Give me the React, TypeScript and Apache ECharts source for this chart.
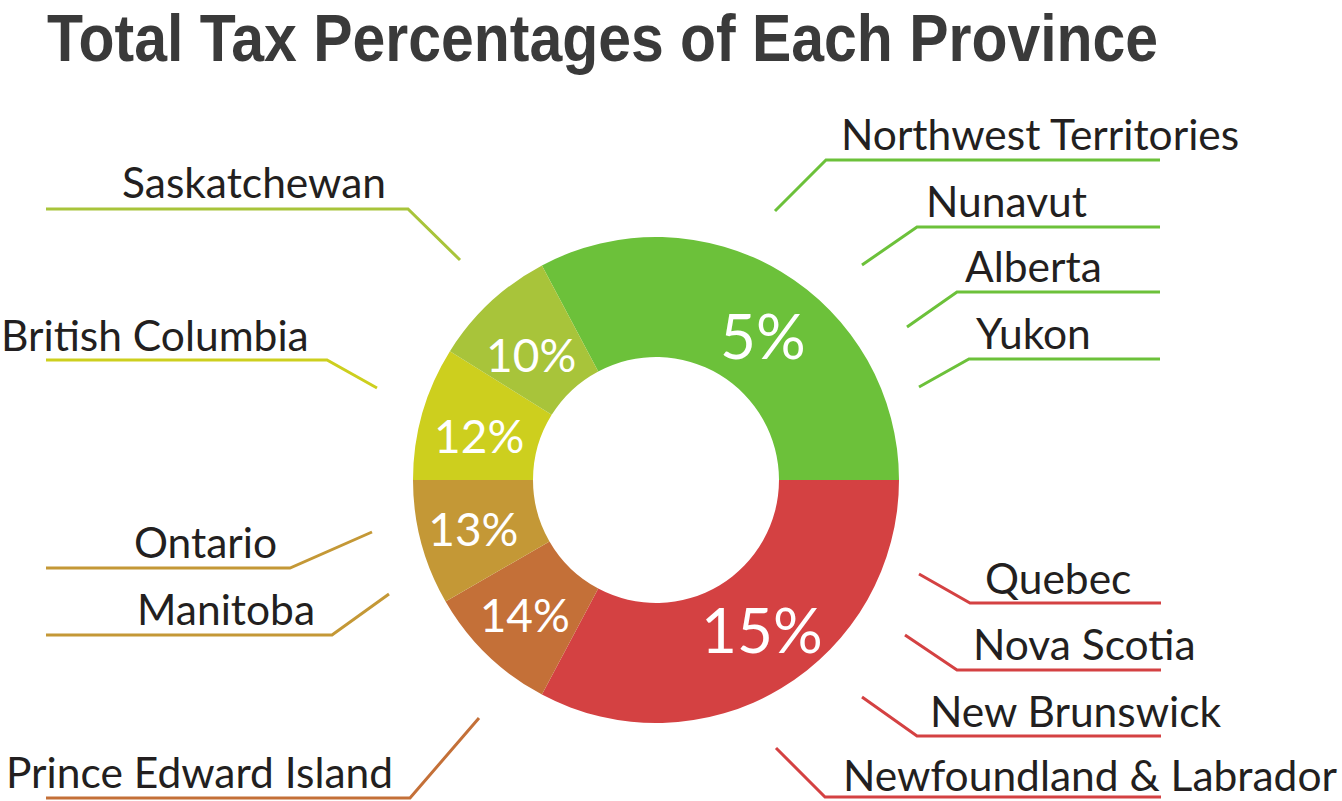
import React, { useEffect, useRef } from "react";
import * as echarts from "echarts";

const TITLE = "Total Tax Percentages of Each Province";

// Slices (clockwise from the upper-left edge of the green slice)
const rateLabels = ["5%", "15%", "14%", "13%", "12%", "10%"];
const sliceShares = [118, 118, 32, 30, 32, 30]; // angular share (degrees)
const sliceColors = ["#6cc13a", "#d44142", "#c47038", "#c49836", "#cdcf1e", "#a8c43a"];

// Provinces and the slice each one belongs to
const provinces = [
  "Northwest Territories",
  "Nunavut",
  "Alberta",
  "Yukon",
  "Quebec",
  "Nova Scotia",
  "New Brunswick",
  "Newfoundland & Labrador",
  "Prince Edward Island",
  "Ontario",
  "Manitoba",
  "British Columbia",
  "Saskatchewan",
];
const provinceSlice = [0, 0, 0, 0, 1, 1, 1, 1, 2, 3, 3, 4, 5];

// Layout only: leader line points and label anchor (left x, baseline y)
const leaderLayout: { pts: number[][]; tx: number; ty: number }[] = [
  { pts: [[775, 211], [826, 160], [1160, 160]], tx: 841, ty: 149 },
  { pts: [[862, 265], [917, 227], [1160, 227]], tx: 926, ty: 216 },
  { pts: [[907, 327], [957, 292], [1160, 292]], tx: 965, ty: 281 },
  { pts: [[919, 387], [969, 359], [1160, 359]], tx: 976, ty: 348 },
  { pts: [[919, 574], [970, 603], [1161, 603]], tx: 985, ty: 593 },
  { pts: [[905, 635], [957, 670], [1161, 670]], tx: 973, ty: 659 },
  { pts: [[862, 697], [917, 736], [1161, 736]], tx: 930, ty: 726 },
  { pts: [[776, 748], [825, 797], [1161, 797]], tx: 843, ty: 790 },
  { pts: [[479, 718], [410, 798], [46, 798]], tx: 6, ty: 787 },
  { pts: [[372, 532], [290, 568], [46, 568]], tx: 134, ty: 557 },
  { pts: [[389, 594], [332, 635], [46, 635]], tx: 137, ty: 624 },
  { pts: [[377, 388], [327, 360], [46, 360]], tx: 1, ty: 350 },
  { pts: [[460, 260], [408, 209], [46, 209]], tx: 122, ty: 197 },
];

// Layout only: nudges of the percentage labels
const rateLabelNudge = [
  [11, 14],
  [10, -10],
  [-2, 1],
  [-3, 0],
  [2, 7],
  [2, 11],
];

const LABEL_FONT = 42.5;
const TITLE_FONT = 66;
const TITLE_BASELINE = 60.5;
const TITLE_WIDTH = 1111;

export default function App() {
  const ref = useRef<HTMLDivElement>(null);

  useEffect(() => {
    if (!ref.current) return;
    const chart = echarts.init(ref.current, undefined, { renderer: "svg" });

    let titleScaleX = 0.9;
    try {
      const ctx = document.createElement("canvas").getContext("2d");
      if (ctx) {
        ctx.font = `bold ${TITLE_FONT}px "Liberation Sans"`;
        const w = ctx.measureText(TITLE).width;
        if (w > 0) titleScaleX = TITLE_WIDTH / w;
      }
    } catch (e) {
      titleScaleX = 0.9;
    }

    const graphics: any[] = [
      {
        type: "text",
        x: 47,
        y: TITLE_BASELINE - 0.3465 * TITLE_FONT,
        scaleX: titleScaleX,
        silent: true,
        style: {
          text: TITLE,
          fontFamily: "Liberation Sans",
          fontWeight: "bold",
          fontSize: TITLE_FONT,
          fill: "#3a3a3a",
          align: "left",
          verticalAlign: "middle",
        },
      },
    ];

    provinces.forEach((name, i) => {
      const lay = leaderLayout[i];
      const color = sliceColors[provinceSlice[i]];
      graphics.push({
        type: "polyline",
        silent: true,
        shape: { points: lay.pts },
        style: { stroke: color, lineWidth: 3, fill: "none" },
      });
      graphics.push({
        type: "text",
        silent: true,
        x: lay.tx,
        y: lay.ty - 0.37 * LABEL_FONT,
        style: {
          text: name,
          fontFamily: "Lato",
          fontSize: LABEL_FONT,
          fill: "#231f20",
          align: "left",
          verticalAlign: "middle",
        },
      });
    });

    chart.setOption({
      animation: false,
      backgroundColor: "#ffffff",
      series: [
        {
          type: "pie",
          center: [656, 480],
          radius: [123, 243],
          startAngle: 118,
          clockwise: true,
          silent: true,
          avoidLabelOverlap: false,
          emphasis: { disabled: true },
          itemStyle: { borderWidth: 0 },
          label: {
            show: true,
            position: "inside",
            color: "#ffffff",
            fontFamily: "Lato",
            fontSize: 46,
            formatter: (p: any) => rateLabels[p.dataIndex],
          },
          labelLine: { show: false },
          labelLayout: (p: any) => ({
            dx: rateLabelNudge[p.dataIndex][0],
            dy: rateLabelNudge[p.dataIndex][1],
          }),
          data: sliceShares.map((v, i) => ({
            value: v,
            name: rateLabels[i],
            itemStyle: { color: sliceColors[i] },
            label: i < 2 ? { fontSize: 62 } : undefined,
          })),
        },
      ],
      graphic: graphics,
    });

    return () => chart.dispose();
  }, []);

  return (
    <div
      ref={ref}
      style={{ position: "absolute", left: 0, top: 0, width: 1342, height: 801 }}
    />
  );
}
